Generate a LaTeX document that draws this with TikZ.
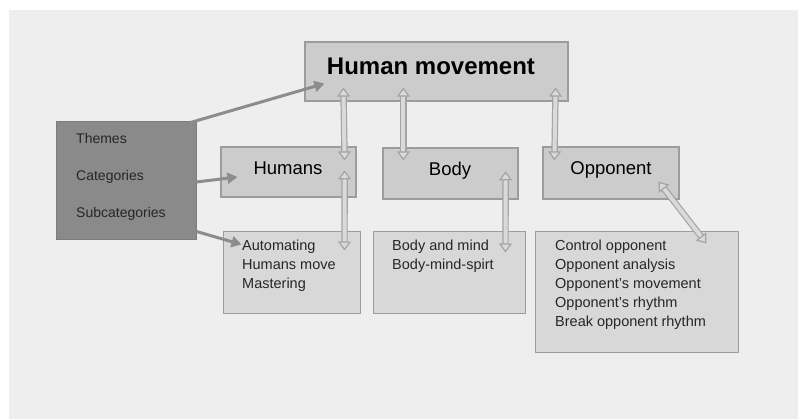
\documentclass[tikz,border=0pt]{standalone}
\usepackage{fontspec}
\setmainfont{Liberation Sans}
\usetikzlibrary{arrows.meta,calc}
\definecolor{pagebg}{HTML}{EEEEEE}
\definecolor{boxfill}{HTML}{CCCCCC}
\definecolor{subfill}{HTML}{D8D8D8}
\definecolor{boxline}{HTML}{9C9C9C}
\definecolor{darkfill}{HTML}{8A8A8A}
\definecolor{darkarrow}{HTML}{8C8C8C}
\definecolor{linkout}{HTML}{A4A4A4}
\definecolor{linkin}{HTML}{DADADA}
\tikzset{
  mainbox/.style={draw=boxline, line width=1.2pt, fill=boxfill, inner sep=0pt},
  catbox/.style={draw=boxline, line width=1.2pt, fill=boxfill, inner sep=0pt,
    font=\fontsize{18.5}{20}\selectfont},
  subbox/.style={draw=boxline, line width=1pt, fill=subfill, inner sep=0pt},
  legendbox/.style={draw=darkfill!90!black, line width=1pt, fill=darkfill, inner sep=0pt},
  itemtext/.style={anchor=north west, align=left, inner sep=0pt,
    font=\fontsize{14.5}{19}\selectfont, text=black!85},
  pointer/.style={draw=darkarrow, line width=3pt,
    -{Triangle[width=11pt,length=10pt]}},
  linkpath/.style={draw=linkout, line width=1.2pt, double=linkin, double distance=4pt,
    {Triangle[open,fill=linkin,width=13pt,length=9pt]}-{Triangle[open,fill=linkin,width=13pt,length=9pt]}},
}
\begin{document}
\begin{tikzpicture}[x=1pt,y=-1pt]
  % page and backdrop
  \useasboundingbox (0,0) rectangle (798,419);
  \fill[white] (0,0) rectangle (798,419);
  \fill[pagebg] (9,10) rectangle (798,419);

  % top theme
  \node[mainbox, minimum width=263pt, minimum height=59pt] (hm) at (436.5,71.5) {};
  \node[font=\bfseries\fontsize{24}{26}\selectfont, inner sep=0pt] (hmtext) at (431,66) {Human movement};

  % legend block
  \node[legendbox, minimum width=140pt, minimum height=118pt] (legend) at (126,181) {};
  \node[anchor=west, align=left, inner sep=0pt, font=\fontsize{14}{37}\selectfont, text=black!85]
    (legendtext) at (76,177) {Themes\\Categories\\Subcategories};

  % categories
  \node[catbox, minimum width=135pt, minimum height=50pt] (hu) at (288.5,172) {};
  \node[inner sep=0pt, font=\fontsize{18.5}{20}\selectfont] (hutext) at (288,168) {Humans};
  \node[catbox, minimum width=135pt, minimum height=51pt] (bo) at (450.5,173.5) {};
  \node[inner sep=0pt, font=\fontsize{18.5}{20}\selectfont] (botext) at (450,171) {Body};
  \node[catbox, minimum width=136pt, minimum height=52pt] (op) at (611,173) {};
  \node[inner sep=0pt, font=\fontsize{18.5}{20}\selectfont] (optext) at (611,170) {Opponent};

  % subcategories
  \node[subbox, minimum width=137pt, minimum height=82pt] (husub) at (291.5,273) {};
  \node[itemtext] (husubtext) at (242,240) {Automating\\Humans move\\Mastering};
  \node[subbox, minimum width=152pt, minimum height=82pt] (bosub) at (449,273) {};
  \node[itemtext] (bosubtext) at (392,240) {Body and mind\\Body-mind-spirt};
  \node[subbox, minimum width=203pt, minimum height=121pt] (opsub) at (636.5,292.5) {};
  \node[itemtext] (opsubtext) at (555,240) {Control opponent\\Opponent analysis\\Opponent's movement\\Opponent's rhythm\\Break opponent rhythm};

  % links between levels
  \draw[linkpath] ($(hm.south west)+(39,-14)$) -- ($(hu.north east)+(-12,14)$);
  \draw[linkpath] ($(hm.south west)+(99,-14)$) -- ($(bo.north west)+(21,13)$);
  \draw[linkpath] ($(hm.south east)+(-13,-14)$) -- ($(op.north west)+(12,14)$);
  \draw[linkpath] ($(hu.north east)+(-12,24)$) -- ($(husub.north east)+(-16,19)$);
  \draw[linkpath] ($(bo.north east)+(-13,24)$) -- ($(bosub.north east)+(-20,21)$);
  \draw[linkpath] ($(op.south east)+(-21,-18)$) -- ($(opsub.north east)+(-32,12)$);

  % legend pointers
  \draw[pointer] ($(legend.north east)+(-6,1)$) -- ($(hm.south west)+(20,-18)$);
  \draw[pointer] ($(legend.east)+(0,1)$) -- ($(hu.west)+(17,5)$);
  \draw[pointer] ($(legend.south east)+(0,-9)$) -- ($(husub.north west)+(19,13)$);
\end{tikzpicture}
\end{document}
